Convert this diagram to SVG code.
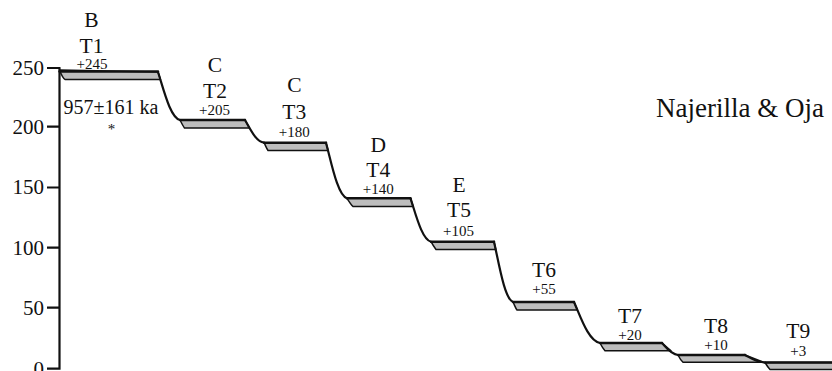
<svg xmlns="http://www.w3.org/2000/svg" width="832" height="371" viewBox="0 0 832 371">
<style>
text{font-family:"Liberation Serif","Times New Roman",serif;fill:#111}
.tick{font-size:21px;text-anchor:end}
.lab{font-size:21.5px;text-anchor:middle}
.num{font-size:15px;text-anchor:middle}
.band{fill:#bdbdbd;stroke:#111;stroke-width:1.5;stroke-linejoin:round}
.top{fill:none;stroke:#111;stroke-width:2.4;stroke-linecap:round}
.ax{fill:none;stroke:#111;stroke-width:2.2}
.scarp{fill:none;stroke:#111;stroke-width:2.2;stroke-linecap:round}
</style>
<rect width="832" height="371" fill="#fff"/>
<g id="axis">
<path class="ax" d="M59.5,68 V369.5 M47,68 H60.5 M47,126.7 H59.5 M47,187.5 H59.5 M47,247.7 H59.5 M47,307.7 H59.5 M47,368.7 H60.5"/>
<text class="tick" x="44" y="75">250</text>
<text class="tick" x="44" y="133.5">200</text>
<text class="tick" x="44" y="194.3">150</text>
<text class="tick" x="44" y="254.5">100</text>
<text class="tick" x="44" y="314.5">50</text>
<text class="tick" x="44" y="375.5">0</text>
</g>
<g id="T1">
<path class="band" d="M59.5,70 C61,74 63,78 65,79.5 L160.5,79.5 L158,72 Z"/>
<path class="top" d="M59.5,71.5 H158"/>
<text class="lab" x="91.5" y="26.7">B</text>
<text class="lab" x="91.5" y="53.3">T1</text>
<text class="num" x="92" y="69.3">+245</text>
<text x="111" y="113.5" style="font-size:20px;text-anchor:middle">957±161 ka</text>
<text x="111.5" y="134" style="font-size:15px;text-anchor:middle">*</text>
</g>
<g id="T2">
<path class="band" d="M180,120 C181.5,123 183,126 184.5,128 L249.4,128 L245,120 Z"/>
<path class="top" d="M180,120 H245"/>
<text class="lab" x="215" y="71.7">C</text>
<text class="lab" x="215" y="98.3">T2</text>
<text class="num" x="214.5" y="115">+205</text>
</g>
<g id="T3">
<path class="band" d="M264,142.7 C265.5,145.5 266.5,148.5 268,150.5 L328.1,150.5 L326,142.7 Z"/>
<path class="top" d="M264,142.7 H326"/>
<text class="lab" x="294.3" y="91.7">C</text>
<text class="lab" x="294.3" y="119.3">T3</text>
<text class="num" x="294.3" y="136.7">+180</text>
</g>
<g id="T4">
<path class="band" d="M347,198.3 C349,201.5 351,204.5 353,206.5 L413.2,206.5 L410.5,198.3 Z"/>
<path class="top" d="M347,198.3 H410.5"/>
<text class="lab" x="378.3" y="151.7">D</text>
<text class="lab" x="378.3" y="176.7">T4</text>
<text class="num" x="378.3" y="194">+140</text>
</g>
<g id="T5">
<path class="band" d="M431,241.7 C432.5,244.5 434.5,247.5 436,249.5 L495.8,249.5 L494,241.7 Z"/>
<path class="top" d="M431,241.7 H494"/>
<text class="lab" x="459" y="191.7">E</text>
<text class="lab" x="459" y="217.3">T5</text>
<text class="num" x="458.5" y="235.7">+105</text>
</g>
<g id="T6">
<path class="band" d="M513,302 C514.5,305 515.5,308 517,310 L577.4,310 L574,302 Z"/>
<path class="top" d="M513,302 H574"/>
<text class="lab" x="544" y="276.7">T6</text>
<text class="num" x="544" y="294.3">+55</text>
</g>
<g id="T7">
<path class="band" d="M600,343 C601.5,346 603.5,349 605,350.7 L671,350.7 L662,343 Z"/>
<path class="top" d="M600,343 H662"/>
<text class="lab" x="630" y="323.3">T7</text>
<text class="num" x="630" y="340">+20</text>
</g>
<g id="T8">
<path class="band" d="M678,355 C679.5,358 681.5,361 683,362.3 L763.5,362.3 L745,355 Z"/>
<path class="top" d="M678,355 H745"/>
<text class="lab" x="716" y="332.7">T8</text>
<text class="num" x="716" y="350">+10</text>
</g>
<g id="T9">
<path class="band" d="M765,362.5 C766.5,365 768.5,368 770,369.5 L834,369.5 L834,362.5 Z"/>
<path class="top" d="M765,362.5 H834"/>
<text class="lab" x="798.3" y="338.3">T9</text>
<text class="num" x="798.3" y="355.7">+3</text>
</g>
<g id="title">
<text x="656" y="117" style="font-size:27px">Najerilla &amp; Oja</text>
</g>
<g id="connectors">
<path class="scarp" d="M158,72 C163.5,88.8 170.1,117.6 180,120"/>
<path class="scarp" d="M245,120 C249.8,127.9 255.5,141.6 264,142.7"/>
<path class="scarp" d="M326,142.7 C331.3,162.2 337.6,195.5 347,198.3"/>
<path class="scarp" d="M410.5,198.3 C415.6,213.5 421.8,239.5 431,241.7"/>
<path class="scarp" d="M494,241.7 C498.8,262.8 504.5,299 513,302"/>
<path class="scarp" d="M574,302 C580.5,316.4 588.3,341 600,343"/>
<path class="scarp" d="M662,343 C666,347.2 670.8,354.4 678,355"/>
<path class="scarp" d="M745,355 C750,357.6 756,362.1 765,362.5"/>
</g>
</svg>
